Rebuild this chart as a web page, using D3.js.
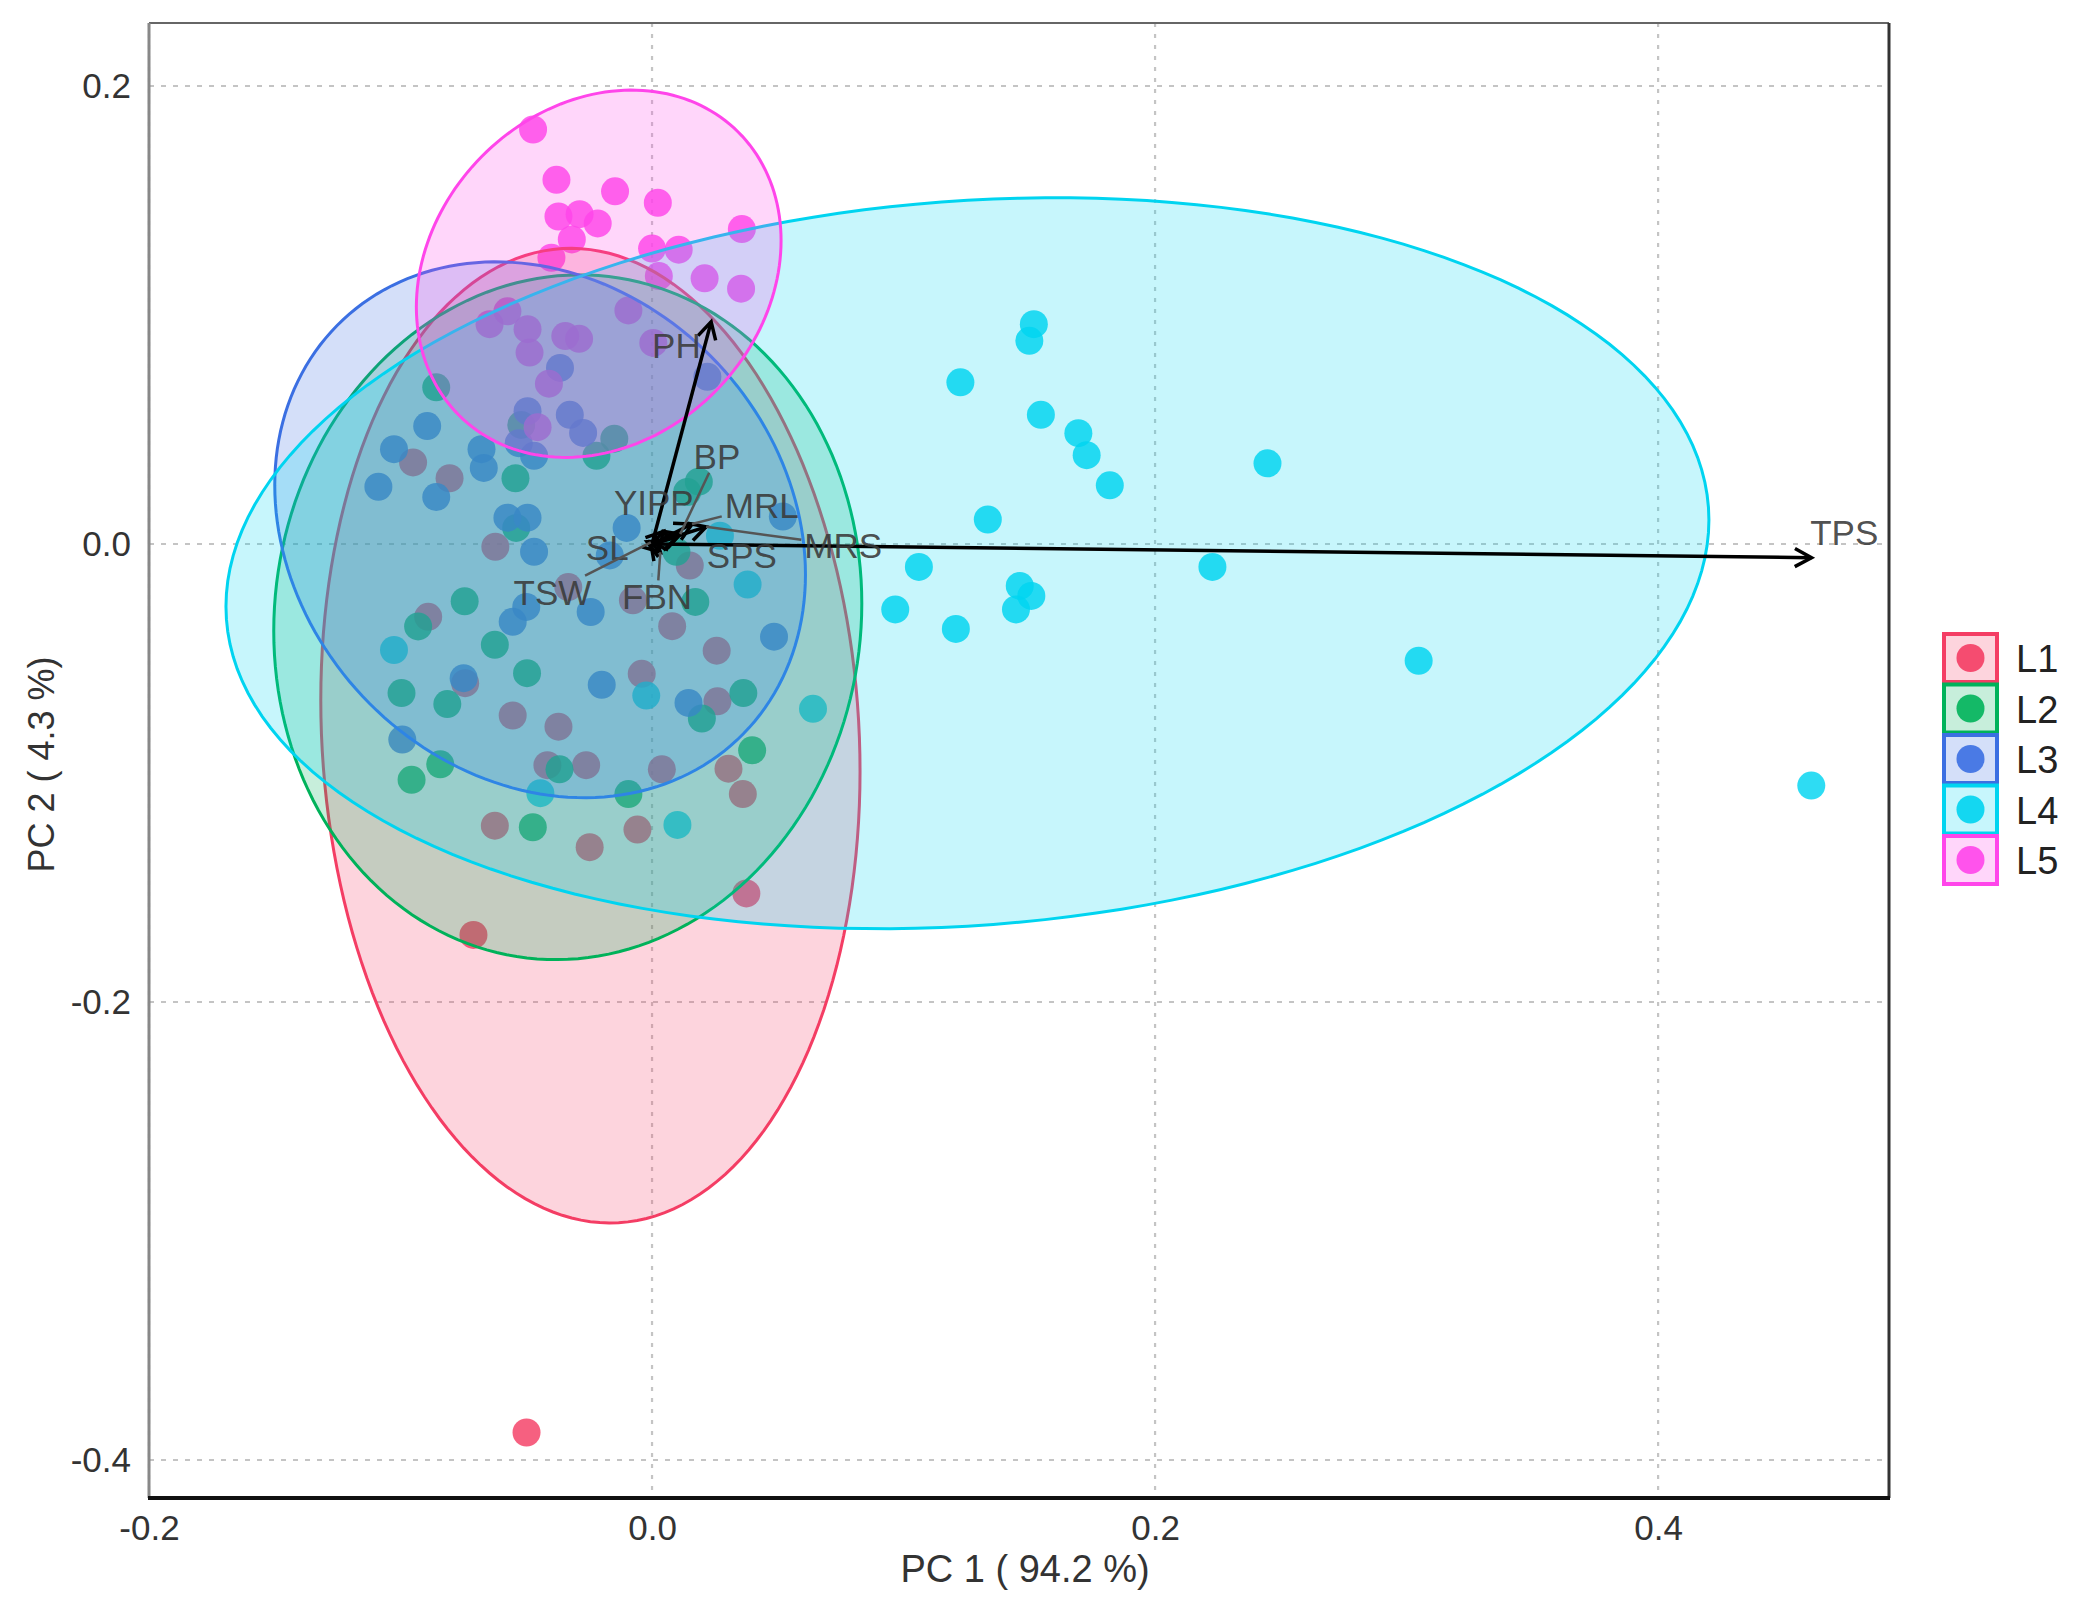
<!DOCTYPE html>
<html>
<head>
<meta charset="utf-8">
<script src="https://cdn.jsdelivr.net/npm/d3@7"></script>
<style>
  body { margin: 0; background: #fff; }
  text { font-family: "Liberation Sans", Arial, sans-serif; }
</style>
</head>
<body>
<div id="chart"></div>
<script>
// groups and colours
var groups = ["L1", "L2", "L3", "L4", "L5"];
var colors = ["#F43D64", "#00B25A", "#3B6FE2", "#00D4F0", "#FF45EA"];

// PCA scores per group, [PC1, PC2]
var scoresL1 = [[-0.095,0.0356],[-0.0805,0.0287],[-0.0623,-0.0012],[0.015,-0.0094],[-0.089,-0.0318],
  [-0.0743,-0.0608],[-0.0554,-0.0749],[-0.0372,-0.0798],[-0.0041,-0.0567],[0.008,-0.0359],
  [0.0257,-0.0466],[0.026,-0.0687],[-0.0076,-0.0246],[-0.0333,-0.0188],[-0.0416,-0.0966],
  [-0.0262,-0.0966],[0.0039,-0.0984],[0.0304,-0.0981],[0.0361,-0.1092],[-0.0625,-0.123],
  [-0.0248,-0.1324],[-0.0058,-0.1247],[0.0375,-0.1526],[-0.071,-0.1707],[-0.0499,-0.388]];
var scoresL2 = [[-0.0858,0.0684],[-0.0543,0.0287],[-0.0221,0.0385],[-0.015,0.046],[-0.052,0.052],
  [0.0186,0.0272],[0.014,0.0227],[-0.054,0.007],[0.0097,-0.0034],[-0.0745,-0.025],
  [-0.093,-0.036],[-0.0625,-0.044],[-0.0497,-0.0564],[-0.0996,-0.0651],[-0.0814,-0.0699],
  [0.0172,-0.0253],[0.0363,-0.0651],[0.0198,-0.0762],[0.0398,-0.0901],[-0.0842,-0.0962],
  [-0.0956,-0.103],[-0.0368,-0.0984],[-0.0094,-0.1092],[-0.0474,-0.1237]];
var scoresL3 = [[-0.0366,0.0769],[-0.0495,0.058],[-0.0327,0.0564],[-0.0274,0.0485],[-0.0894,0.0515],
  [-0.1026,0.0414],[-0.1088,0.025],[-0.0858,0.0205],[-0.0678,0.0414],[-0.0669,0.0332],
  [-0.0575,0.0115],[-0.0495,0.0115],[-0.0469,0.0385],[-0.053,0.044],[-0.0101,0.007],
  [-0.0168,-0.005],[-0.0469,-0.0034],[0.022,0.073],[0.052,0.012],[-0.05,-0.0275],
  [-0.0554,-0.034],[-0.0244,-0.0297],[-0.0749,-0.0586],[-0.02,-0.0615],[0.0145,-0.0694],
  [0.0485,-0.0405],[-0.0993,-0.0854]];
var scoresL4 = [[-0.1026,-0.0463],[-0.0023,-0.0662],[0.038,-0.0177],[0.064,-0.072],[-0.0444,-0.1088],
  [0.0101,-0.1227],[0.027,0.0036],[0.1518,0.096],[0.150,0.0887],[0.1226,0.0706],[0.1546,0.0564],
  [0.1695,0.0484],[0.1728,0.0388],[0.182,0.0256],[0.2447,0.0352],[0.1335,0.0107],
  [0.1061,-0.01],[0.2228,-0.01],[0.1462,-0.0183],[0.1508,-0.0227],[0.1447,-0.0286],
  [0.0967,-0.0286],[0.1208,-0.0371],[0.3048,-0.051],[0.4609,-0.1055]];
var scoresL5 = [[-0.0473,0.181],[-0.038,0.159],[-0.0147,0.154],[0.0023,0.149],[-0.0372,0.143],
  [-0.0288,0.144],[-0.0216,0.140],[-0.0319,0.133],[0.0357,0.1375],[0,0.129],[0.0106,0.1285],
  [-0.040,0.125],[0.0027,0.117],[0.0209,0.116],[0.0354,0.1115],[-0.0094,0.102],
  [-0.0575,0.1016],[-0.0646,0.096],[-0.0495,0.0938],[-0.0345,0.0908],[-0.029,0.0896],
  [-0.0487,0.0836],[0.0005,0.0878],[-0.041,0.070],[-0.0455,0.051]];
var scores = [scoresL1, scoresL2, scoresL3, scoresL4, scoresL5];

// confidence ellipses: centre, half width, half height, PC2 offset of the rightmost point
var ellCx = [-0.0245, -0.0335, -0.0445, 0.1254, -0.0212];
var ellCy = [-0.0837, -0.032, 0.0062, -0.0084, 0.118];
var ellW  = [0.1072, 0.1169, 0.1055, 0.2948, 0.0725];
var ellH  = [0.2128, 0.1495, 0.117, 0.1596, 0.0802];
var ellP  = [-0.0155, 0.006, -0.0195, 0.0189, 0.0145];

// variable loadings (arrow tips) and label positions
var varNames = ["TPS", "PH", "BP", "YIPP", "MRL", "SL", "SPS", "MRS", "TSW", "FBN"];
var varPC1 = [0.461, 0.0235, 0.0112, 0.0045, 0.0159, -0.002, 0.010, 0.0215, -0.0005, 0.0033];
var varPC2 = [-0.006, 0.097, 0.0043, 0.0055, 0.0087, 0.001, 0.003, 0.0075, 0.0007, -0.0036];
var labPC1 = [0.474, 0.0097, 0.0258, 0.0007, 0.0436, -0.0178, 0.0357, 0.076, -0.0396, 0.002];
var labPC2 = [0.0052, 0.0866, 0.0383, 0.018, 0.0166, -0.0014, -0.0051, -0.0007, -0.021, -0.0231];
var labLink = [false, false, true, false, true, false, false, true, true, true];

var xTicks = [-0.2, 0.0, 0.2, 0.4];
var yTicks = [-0.4, -0.2, 0.0, 0.2];

var W = 2090, H = 1601;
var pL = 149, pR = 1889, pT = 23, pB = 1498;

var svg = d3.select("#chart").append("svg")
    .attr("width", W)
    .attr("height", H);

var x = d3.scaleLinear().domain([-0.2, 0.4918]).range([pL, pR]);
var y = d3.scaleLinear().domain([-0.4166, 0.2275]).range([pB, pT]);
var fmt = function(d) { return d3.format(".1f")(d).replace("\u2212", "-"); };

// grid
var grid = svg.append("g");
grid.selectAll(".gx").data(xTicks).enter().append("line")
    .attr("x1", d => x(d)).attr("x2", d => x(d))
    .attr("y1", pT).attr("y2", pB)
    .attr("stroke", "#c4c4c4").attr("stroke-width", 2.2)
    .attr("stroke-dasharray", "4,7");
grid.selectAll(".gy").data(yTicks).enter().append("line")
    .attr("x1", pL).attr("x2", pR)
    .attr("y1", d => y(d)).attr("y2", d => y(d))
    .attr("stroke", "#c4c4c4").attr("stroke-width", 2.2)
    .attr("stroke-dasharray", "5,7");

// points
var pts = svg.append("g");
scores.forEach(function(s, i) {
  pts.selectAll(".p" + i).data(s).enter().append("circle")
      .attr("cx", d => x(d[0]))
      .attr("cy", d => y(d[1]))
      .attr("r", 14)
      .attr("fill", colors[i])
      .attr("fill-opacity", 0.82);
});

// ellipses, drawn over the points
function ellipsePts(i) {
  var q = Math.sqrt(ellH[i] * ellH[i] - ellP[i] * ellP[i]);
  return d3.range(0, 360, 2).map(function(t) {
    var r = t * Math.PI / 180;
    return [ellCx[i] + ellW[i] * Math.cos(r), ellCy[i] + ellP[i] * Math.cos(r) + q * Math.sin(r)];
  });
}
var line = d3.line().x(d => x(d[0])).y(d => y(d[1])).curve(d3.curveLinearClosed);
var ell = svg.append("g");
groups.forEach(function(g, i) {
  ell.append("path")
      .attr("d", line(ellipsePts(i)))
      .attr("fill", colors[i])
      .attr("fill-opacity", 0.22)
      .attr("stroke", colors[i])
      .attr("stroke-width", 3);
});

// panel border
svg.append("line").attr("x1", pL).attr("x2", pR).attr("y1", pT).attr("y2", pT)
    .attr("stroke", "#666").attr("stroke-width", 2);
svg.append("line").attr("x1", pR).attr("x2", pR).attr("y1", pT).attr("y2", pB)
    .attr("stroke", "#333").attr("stroke-width", 3);
svg.append("line").attr("x1", pL).attr("x2", pL).attr("y1", pT).attr("y2", pB)
    .attr("stroke", "#888").attr("stroke-width", 3);
svg.append("line").attr("x1", pL - 1).attr("x2", pR + 1).attr("y1", pB).attr("y2", pB)
    .attr("stroke", "#111").attr("stroke-width", 4);

// axes labels
var xAxis = svg.append("g")
    .attr("transform", "translate(0," + pB + ")")
    .call(d3.axisBottom(x).tickValues(xTicks).tickSize(0).tickPadding(17).tickFormat(fmt));
xAxis.select(".domain").remove();
xAxis.selectAll("text").attr("font-size", 35).attr("fill", "#333")
    .style("font-family", "'Liberation Sans', Arial, sans-serif");

var yAxis = svg.append("g")
    .attr("transform", "translate(" + pL + ",0)")
    .call(d3.axisLeft(y).tickValues(yTicks).tickSize(0).tickPadding(18).tickFormat(fmt));
yAxis.select(".domain").remove();
yAxis.selectAll("text").attr("font-size", 35).attr("fill", "#333")
    .style("font-family", "'Liberation Sans', Arial, sans-serif");

svg.append("text")
    .attr("x", (pL + pR) / 2 + 6).attr("y", 1582)
    .attr("text-anchor", "middle").attr("font-size", 38).attr("fill", "#333")
    .text("PC 1 ( 94.2 %)");
svg.append("text")
    .attr("transform", "translate(54," + ((pT + pB) / 2 + 4) + ") rotate(-90)")
    .attr("text-anchor", "middle").attr("font-size", 36).attr("fill", "#333")
    .text("PC 2 ( 4.3 %)");

// variable arrows
var arr = svg.append("g");
var ox = x(0), oy = y(0);
varNames.forEach(function(v, i) {
  var tx = x(varPC1[i]), ty = y(varPC2[i]);
  var a = Math.atan2(ty - oy, tx - ox);
  var hl = 19, ha = 0.5;
  arr.append("line")
      .attr("x1", ox).attr("y1", oy).attr("x2", tx).attr("y2", ty)
      .attr("stroke", "#000").attr("stroke-width", 3.5);
  arr.append("path")
      .attr("d", "M" + (tx - hl * Math.cos(a - ha)) + "," + (ty - hl * Math.sin(a - ha)) +
                 "L" + tx + "," + ty +
                 "L" + (tx - hl * Math.cos(a + ha)) + "," + (ty - hl * Math.sin(a + ha)))
      .attr("fill", "none").attr("stroke", "#000").attr("stroke-width", 3.5);
});

// variable labels with connectors
var labs = svg.append("g");
varNames.forEach(function(v, i) {
  var lx = x(labPC1[i]), ly = y(labPC2[i]);
  var t = labs.append("text")
      .attr("x", lx).attr("y", ly)
      .attr("text-anchor", "middle").attr("dominant-baseline", "central")
      .attr("font-size", 35).attr("fill", "#3a3a3a").attr("fill-opacity", 0.9)
      .text(v);
  if (labLink[i]) {
    var b = t.node().getBBox();
    var tx = x(varPC1[i]), ty = y(varPC2[i]);
    var dx = tx - lx, dy = ty - ly;
    var s = Math.min(Math.abs((b.width / 2 + 3) / dx), Math.abs((b.height / 2 - 3) / dy));
    labs.append("line")
        .attr("x1", lx + dx * s).attr("y1", ly + dy * s)
        .attr("x2", tx).attr("y2", ty)
        .attr("stroke", "#555").attr("stroke-width", 2.5);
  }
});

// legend
var leg = svg.append("g").attr("transform", "translate(1944,634)");
groups.forEach(function(g, i) {
  var row = leg.append("g").attr("transform", "translate(0," + (i * 50.5) + ")");
  row.append("rect")
      .attr("x", 0).attr("y", 0).attr("width", 53).attr("height", 48)
      .attr("fill", colors[i]).attr("fill-opacity", 0.22)
      .attr("stroke", colors[i]).attr("stroke-width", 4);
  row.append("circle")
      .attr("cx", 26.5).attr("cy", 24).attr("r", 14)
      .attr("fill", colors[i]).attr("fill-opacity", 0.9);
  row.append("text")
      .attr("x", 72).attr("y", 25)
      .attr("dominant-baseline", "central")
      .attr("font-size", 38).attr("fill", "#222")
      .text(g);
});
</script>
</body>
</html>
